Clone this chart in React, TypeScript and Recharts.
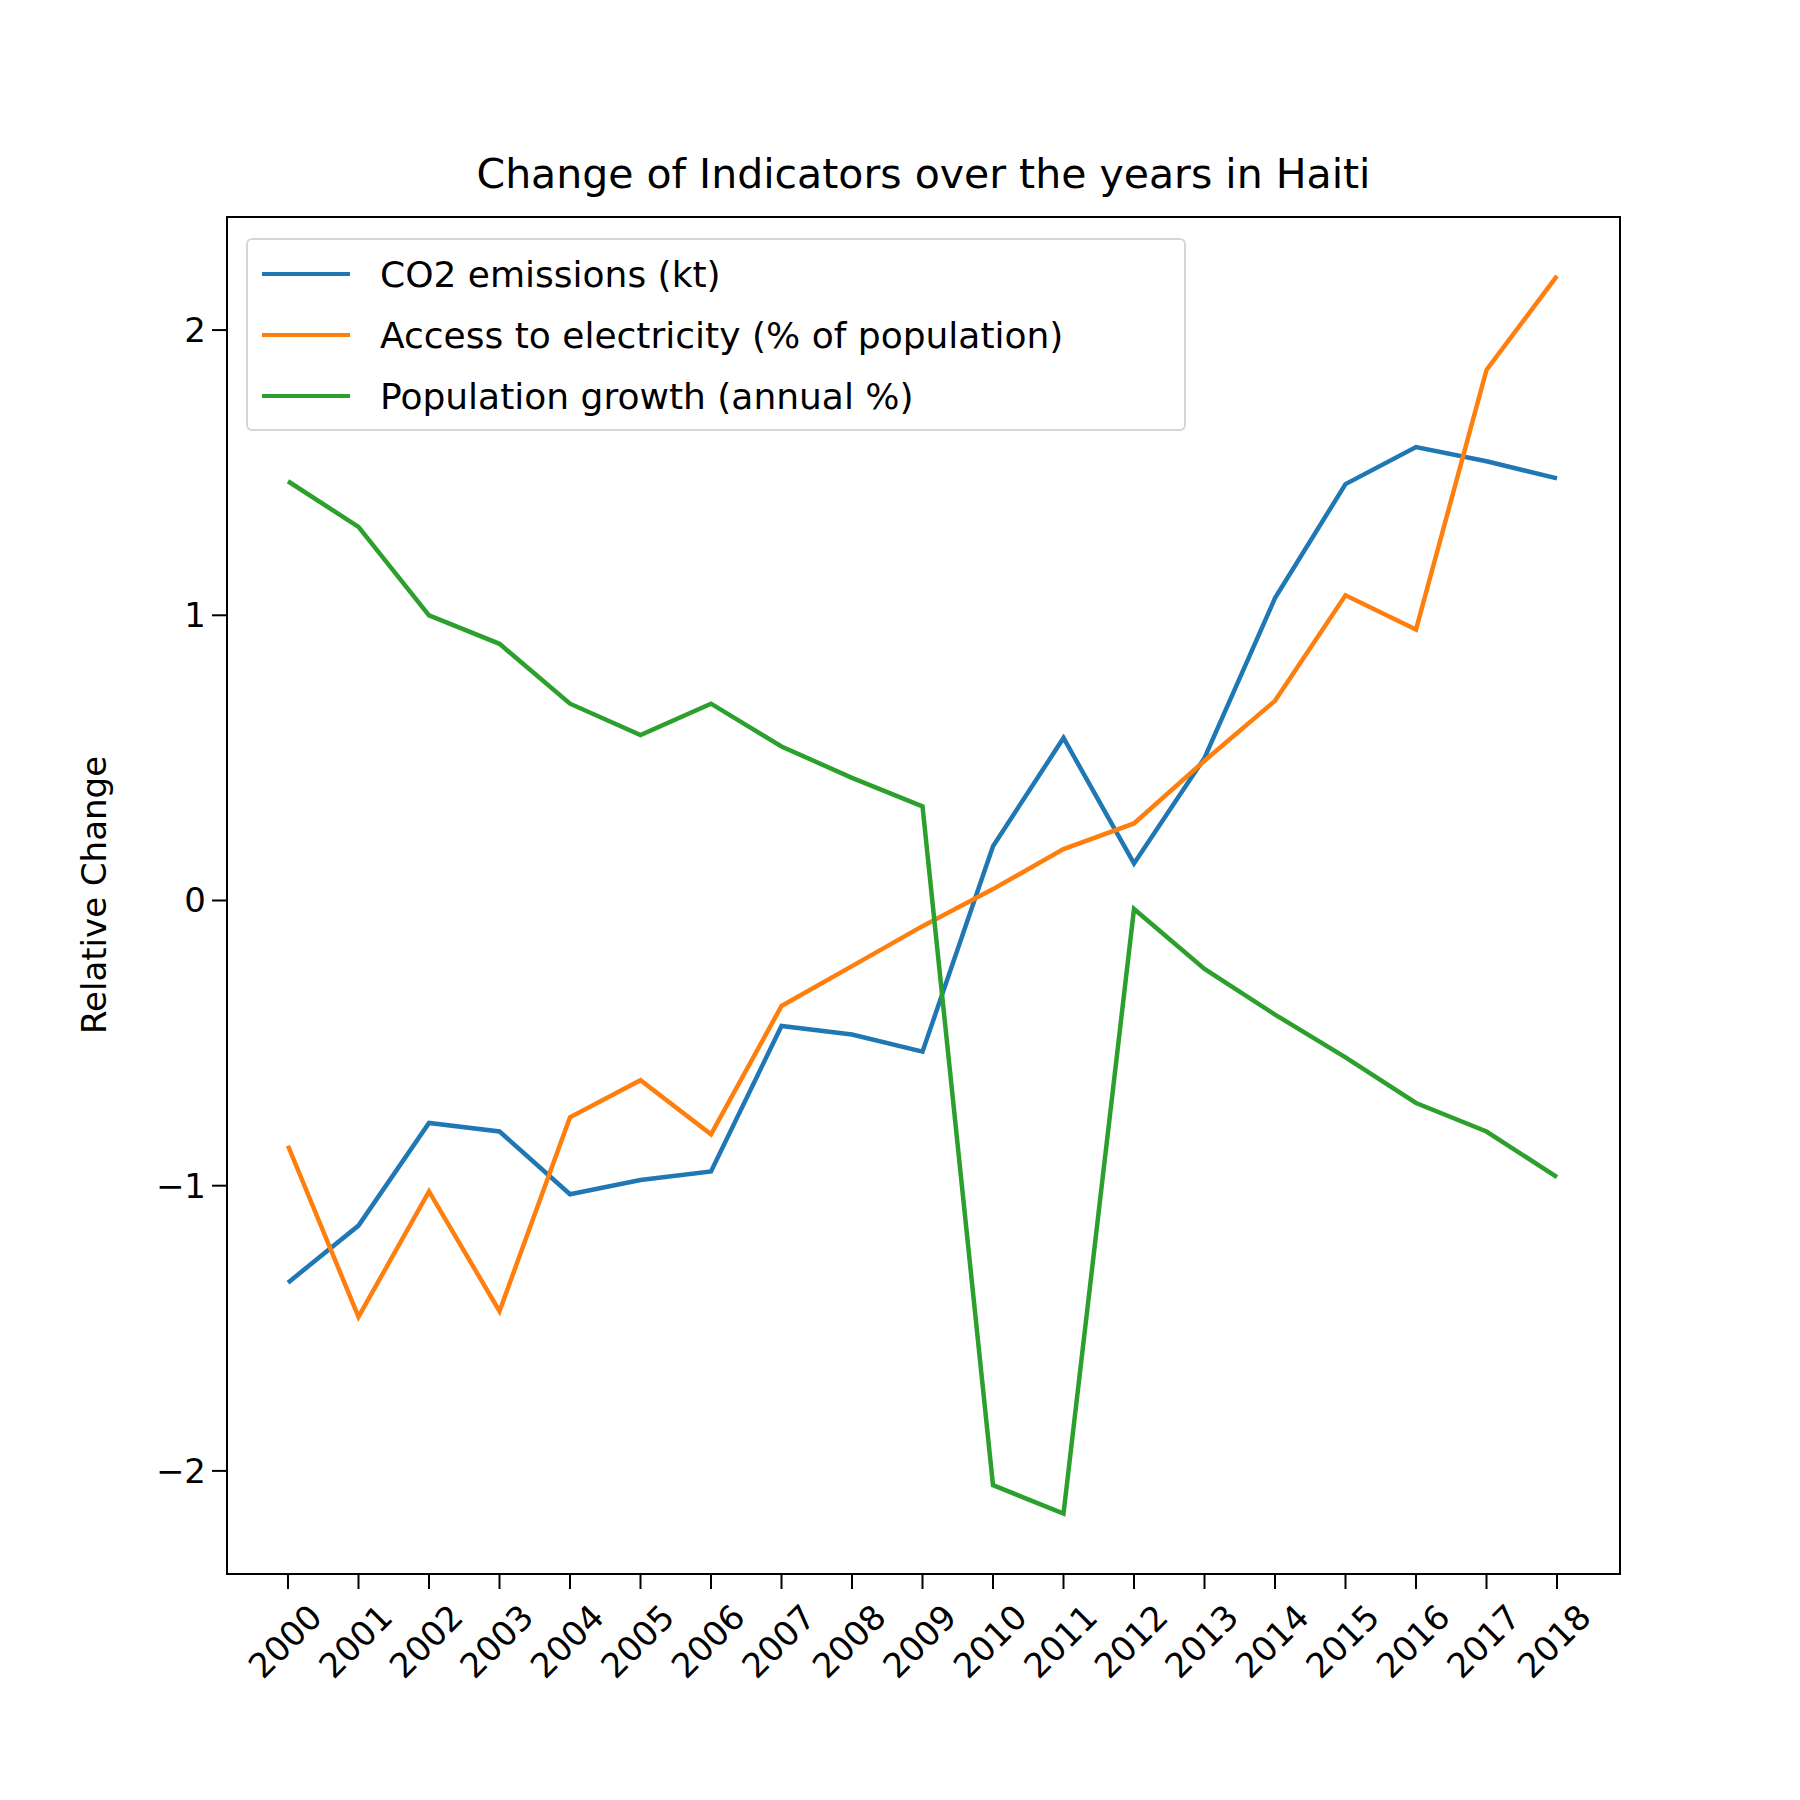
import React from 'react';
import { LineChart, Line, XAxis, YAxis } from 'recharts';

const YEARS = [2000, 2001, 2002, 2003, 2004, 2005, 2006, 2007, 2008, 2009, 2010, 2011, 2012, 2013, 2014, 2015, 2016, 2017, 2018];
const CO2 = [-1.34, -1.14, -0.78, -0.81, -1.03, -0.98, -0.95, -0.44, -0.47, -0.53, 0.19, 0.57, 0.13, 0.5, 1.06, 1.46, 1.59, 1.54, 1.48];
const ELECTRICITY = [-0.86, -1.46, -1.02, -1.44, -0.76, -0.63, -0.82, -0.37, -0.23, -0.09, 0.04, 0.18, 0.27, 0.49, 0.7, 1.07, 0.95, 1.86, 2.19];
const POP_GROWTH = [1.47, 1.31, 1.0, 0.9, 0.69, 0.58, 0.69, 0.54, 0.43, 0.33, -2.05, -2.15, -0.03, -0.24, -0.4, -0.55, -0.71, -0.81, -0.97];
const Y_TICKS = [-2, -1, 0, 1, 2];

const SERIES = [
  { key: 'co2', name: 'CO2 emissions (kt)', color: '#1f77b4' },
  { key: 'elec', name: 'Access to electricity (% of population)', color: '#ff7f0e' },
  { key: 'pop', name: 'Population growth (annual %)', color: '#2ca02c' },
];

const data = YEARS.map((year, i) => ({ year, co2: CO2[i], elec: ELECTRICITY[i], pop: POP_GROWTH[i] }));

const FONT = 'DejaVu Sans';

const XTick = (props: any) => {
  const { x, y, payload } = props;
  return (
    <text x={x + 18} y={y + 10} transform={`rotate(-45, ${x + 18}, ${y + 10})`} textAnchor="end"
      dominantBaseline="hanging" fontSize={34} fontFamily={FONT} fill="#000">
      {payload.value}
    </text>
  );
};

const YTick = (props: any) => {
  const { x, y, payload } = props;
  const v = payload.value;
  const label = v < 0 ? `\u2212${Math.abs(v)}` : `${v}`;
  return (
    <text x={x - 4} y={y} textAnchor="end" dominantBaseline="central" fontSize={34} fontFamily={FONT} fill="#000">
      {label}
    </text>
  );
};

export default function App() {
  return (
    <div style={{ position: 'absolute', left: 0, top: 0, width: 1800, height: 1800, background: '#fff', fontFamily: FONT }}>
      <LineChart width={1800} height={1800} data={data} margin={{ top: 216, right: 179, bottom: 105, left: 126 }}>
        <XAxis dataKey="year" type="number" domain={[2000, 2018]} ticks={YEARS} interval={0}
          padding={{ left: 62, right: 64 }} height={120} tick={<XTick />}
          axisLine={false} tickLine={{ stroke: '#000', strokeWidth: 2 }} tickSize={14} />
        <YAxis type="number" domain={[-2.365, 2.4]} ticks={Y_TICKS} width={100} tick={<YTick />}
          axisLine={false} tickLine={{ stroke: '#000', strokeWidth: 2 }} tickSize={14} allowDataOverflow />
        {SERIES.map(s => (
          <Line key={s.key} dataKey={s.key} stroke={s.color} strokeWidth={4.5} dot={false}
            isAnimationActive={false} type="linear" />
        ))}
      </LineChart>
      <div style={{ position: 'absolute', left: 226, top: 216, width: 1395, height: 1359, border: '2px solid #000', boxSizing: 'border-box', pointerEvents: 'none' }} />
      <div style={{ position: 'absolute', left: 0, width: 1847, top: 150, textAlign: 'center', fontSize: 41, color: '#000' }}>
        Change of Indicators over the years in Haiti
      </div>
      <div style={{ position: 'absolute', left: 94, top: 895, transform: 'translate(-50%, -50%) rotate(-90deg)', fontSize: 34, whiteSpace: 'nowrap', color: '#000' }}>
        Relative Change
      </div>
      <div style={{ position: 'absolute', left: 246, top: 238, width: 940, height: 193, border: '2px solid #d5d5d5', borderRadius: 6, background: 'rgba(255,255,255,0.8)', boxSizing: 'border-box' }}>
        {SERIES.map((s, i) => (
          <div key={s.key} style={{ position: 'absolute', left: 14, top: 34 + i * 61 - 22, height: 44, display: 'flex', alignItems: 'center' }}>
            <div style={{ width: 88, height: 4.5, background: s.color }} />
            <span style={{ marginLeft: 30, fontSize: 36, color: '#000', whiteSpace: 'nowrap' }}>{s.name}</span>
          </div>
        ))}
      </div>
    </div>
  );
}
